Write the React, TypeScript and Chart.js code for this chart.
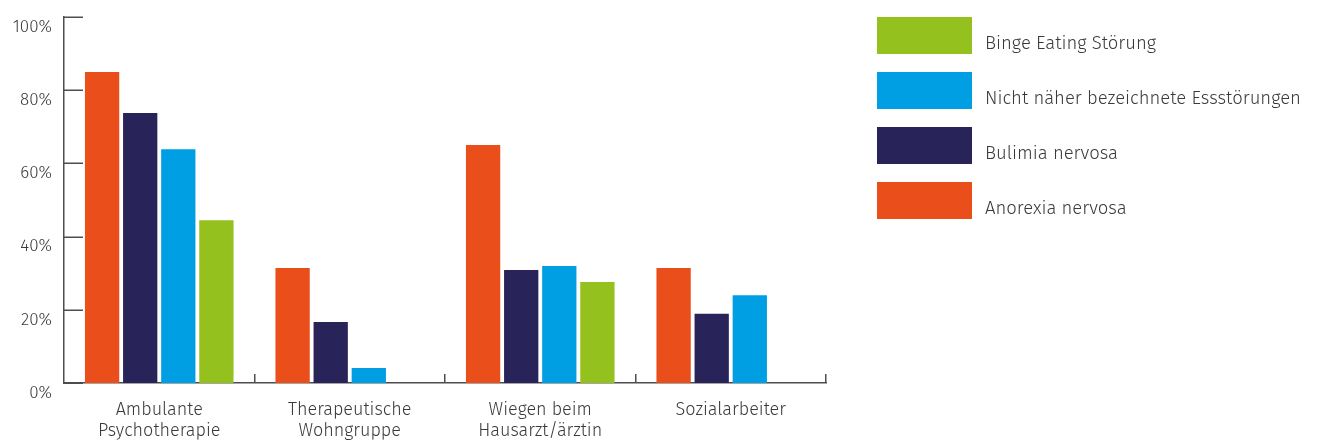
import React, { useEffect, useRef } from "react";
import { Chart, registerables } from "chart.js";

Chart.register(...registerables);

const categories: string[][] = [
  ["Ambulante", "Psychotherapie"],
  ["Therapeutische", "Wohngruppe"],
  ["Wiegen beim", "Hausarzt/ärztin"],
  ["Sozialarbeiter"],
];

const anorexia = [85, 31.4, 65, 31.4];
const bulimia = [73.8, 16.7, 30.9, 18.9];
const nichtNaeher = [63.9, 4.1, 32, 24];
const bingeEating: (number | null)[] = [44.5, null, 27.6, null];

const yTicks = [0, 20, 40, 60, 80, 100];

const FONT = '"Fira Sans", "Open Sans", sans-serif';
const TEXT = "#3a3a3a";
const AXIS = "#4d4d4d";

const decorPlugin = {
  id: "decor",
  afterDraw(chart: any) {
    const ctx = chart.ctx;
    const area = chart.chartArea;
    const xs = chart.scales.x;
    const ys = chart.scales.y;
    ctx.save();
    ctx.strokeStyle = AXIS;
    ctx.lineWidth = 1.5;
    ys.ticks.forEach((t: any) => {
      const py = Math.round(ys.getPixelForValue(t.value)) + 0.25;
      ctx.beginPath();
      ctx.moveTo(area.left, py);
      ctx.lineTo(area.left + 19, py);
      ctx.stroke();
    });
    const n = chart.data.labels.length;
    for (let i = 1; i <= n; i++) {
      const px = Math.round(xs.left + (i * xs.width) / n) - 0.25;
      ctx.beginPath();
      ctx.moveTo(px, area.bottom);
      ctx.lineTo(px, area.bottom - 9);
      ctx.stroke();
    }
    const ds = chart.data.datasets.slice().reverse();
    const bx = area.right + 51;
    ctx.font = `300 18.5px ${FONT}`;
    ctx.textBaseline = "alphabetic";
    ctx.textAlign = "left";
    ds.forEach((d: any, i: number) => {
      const by = area.top + i * 55;
      ctx.fillStyle = d.backgroundColor;
      ctx.fillRect(bx, by, 95, 37);
      ctx.fillStyle = TEXT;
      ctx.fillText(d.label, bx + 108, by + 31.5);
    });
    ctx.restore();
  },
};

export default function App() {
  const ref = useRef<HTMLCanvasElement | null>(null);
  useEffect(() => {
    if (!ref.current) return;
    const chart = new Chart(ref.current, {
      type: "bar",
      data: {
        labels: categories,
        datasets: [
          { label: "Anorexia nervosa", data: anorexia, backgroundColor: "#E94E1B" },
          { label: "Bulimia nervosa", data: bulimia, backgroundColor: "#28245A" },
          { label: "Nicht näher bezeichnete Essstörungen", data: nichtNaeher, backgroundColor: "#009FE3" },
          { label: "Binge Eating Störung", data: bingeEating, backgroundColor: "#95C11F" },
        ],
      },
      options: {
        animation: false,
        responsive: true,
        maintainAspectRatio: false,
        layout: { padding: { top: 9, right: 485, bottom: 0, left: 0 } },
        datasets: { bar: { categoryPercentage: 0.8, barPercentage: 0.9 } },
        plugins: { legend: { display: false }, tooltip: { enabled: false } },
        scales: {
          x: {
            grid: { display: false, drawTicks: false },
            border: { display: true, color: AXIS, width: 1.5 },
            ticks: {
              color: TEXT,
              font: { family: FONT, size: 18, weight: "300", lineHeight: 1.2 },
              padding: 16,
              maxRotation: 0,
              autoSkip: false,
            },
            afterFit: (s: any) => {
              s.height = 58;
              s.paddingLeft = 0;
              s.paddingRight = 0;
            },
          },
          y: {
            min: 0,
            max: 100,
            afterBuildTicks: (s: any) => {
              s.ticks = yTicks.map((v) => ({ value: v }));
            },
            grid: { display: false, drawTicks: false },
            border: { display: true, color: AXIS, width: 1.5 },
            ticks: {
              color: TEXT,
              font: { family: FONT, size: 17, weight: "300" },
              padding: 12,
              labelOffset: 10,
              callback: (v: any) => `${v}%`,
            },
            afterFit: (s: any) => {
              s.width = 56;
              s.paddingTop = 0;
              s.paddingBottom = 0;
            },
          },
        },
      },
      plugins: [decorPlugin],
    });
    return () => chart.destroy();
  }, []);
  return (
    <div style={{ width: "1303px", height: "433px", position: "relative" }}>
      <canvas ref={ref} />
    </div>
  );
}
